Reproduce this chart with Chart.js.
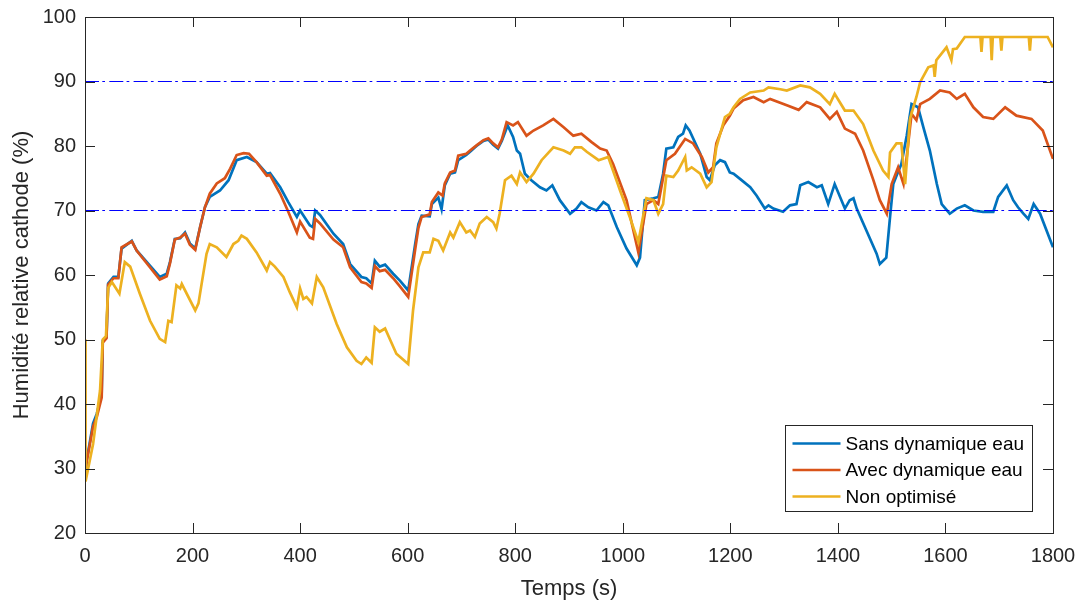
<!DOCTYPE html>
<html>
<head>
<meta charset="utf-8">
<script src="https://cdn.jsdelivr.net/npm/chart.js@4/dist/chart.umd.min.js"></script>
<style>
  html, body { margin: 0; padding: 0; background: #ffffff; overflow: hidden; }
  #wrap { width: 1083px; height: 603px; }
  canvas { display: block; }
</style>
</head>
<body>
<div id="wrap"><canvas id="c" width="1083" height="603"></canvas></div>
<script>
// ---------- Data ----------
const seriesLabels = ["Sans dynamique eau", "Avec dynamique eau", "Non optimisé"];
const xTicks = [0, 200, 400, 600, 800, 1000, 1200, 1400, 1600, 1800];
const yTicks = [20, 30, 40, 50, 60, 70, 80, 90, 100];
const refLevels = [70, 90];

const tSans = [0,3,15,22,31,33,40,43,53,62,68,87,96,139,152,158,167,177,186,195,205,214,223,232,251,267,282,301,319,338,344,363,378,394,400,418,424,428,437,462,480,493,514,523,533,539,548,558,573,586,601,614,620,626,641,645,657,663,669,679,688,694,709,716,728,741,750,759,768,775,786,796,803,809,818,830,846,858,869,883,902,914,923,936,951,964,973,989,1007,1026,1032,1041,1057,1066,1075,1081,1094,1103,1112,1117,1124,1144,1156,1162,1171,1181,1190,1199,1206,1218,1237,1249,1264,1271,1280,1298,1311,1323,1330,1345,1361,1370,1382,1394,1413,1422,1429,1435,1453,1472,1478,1490,1497,1503,1509,1518,1528,1537,1549,1559,1571,1584,1593,1608,1621,1636,1652,1670,1689,1698,1714,1726,1735,1745,1754,1764,1776,1800];
const vSans = [28.5,31.2,37,38.5,41.6,49.8,50.4,58.7,59.7,59.7,64.1,65.3,63.8,59.7,60.2,62.0,65.6,65.7,66.6,64.9,64.1,67.4,70.5,72.1,73.1,74.7,77.8,78.3,77.5,75.7,75.8,73.6,71.3,69.0,70.0,67.7,67.4,70.0,69.3,66.4,64.8,61.7,59.7,59.5,58.7,62.2,61.3,61.6,60.2,59.1,57.6,64.8,67.9,69.2,69.1,71.0,72.0,70.2,73.9,75.7,75.9,77.8,78.6,79.1,80.0,80.8,81.0,80.2,79.6,80.8,83.2,81.4,79.3,78.8,75.7,74.7,73.6,73.1,73.9,71.6,69.5,70.3,71.3,70.5,70.0,71.3,70.8,67.4,64.1,61.5,62.7,71.6,71.9,72.1,75.7,79.6,79.8,81.4,81.9,83.2,82.4,78.8,75.2,74.7,77.0,77.8,77.5,75.9,75.7,74.9,73.6,72.3,70.3,70.8,70.3,69.8,70.8,71.0,73.9,74.4,73.6,73.9,71.0,74.1,70.3,71.6,71.9,70.3,66.9,63.3,61.7,62.7,69.0,74.1,75.4,77.2,81.6,86.5,86.0,82.9,79.3,74.1,71.0,69.5,70.3,70.8,70.0,69.8,69.8,72.1,73.9,71.6,70.5,69.5,68.7,71.0,69.5,64.3];

const tAvec = [0,3,15,22,31,33,40,43,53,62,68,87,96,139,152,158,167,177,186,195,205,214,223,232,245,260,270,282,295,305,319,338,344,363,378,394,400,418,424,428,437,462,480,493,514,523,533,539,548,558,573,586,601,614,620,626,641,645,657,665,669,679,688,694,709,716,728,741,750,759,768,775,784,796,805,821,834,852,871,890,908,923,942,958,970,982,1007,1029,1044,1057,1066,1081,1097,1116,1131,1147,1159,1168,1174,1187,1199,1206,1224,1243,1262,1274,1305,1327,1342,1367,1385,1398,1413,1432,1447,1466,1478,1491,1500,1512,1522,1528,1537,1546,1553,1571,1590,1608,1621,1636,1652,1670,1689,1711,1732,1760,1781,1800];
const vAvec = [28.5,31,36.5,38,41,49.5,50.2,58.5,59.5,59.5,64.3,65.2,63.8,59.3,59.8,61.8,65.5,65.8,66.4,64.7,63.9,67.4,70.5,72.6,74.2,75.0,76.5,78.6,78.9,78.8,77.5,75.4,75.5,72.6,69.8,66.6,68.3,65.8,65.6,68.7,68.0,65.5,64.3,61.2,58.9,58.7,58.0,61.4,60.6,60.8,59.5,58.2,56.6,64.0,67.3,69.0,69.4,71.3,72.8,72.3,74.2,75.9,76.2,78.5,78.8,79.3,80.1,80.9,81.2,80.4,79.8,81.0,83.7,83.2,83.7,81.6,82.4,83.2,84.2,82.9,81.6,81.9,80.6,79.6,79.3,77.2,71.6,63.5,71.0,71.6,71.0,77.8,78.8,81.1,80.4,78.3,75.9,76.7,80.4,83.2,84.7,85.8,87.1,87.6,86.8,87.3,86.3,85.6,86.8,86.0,84.2,85.3,82.7,81.9,79.3,74.7,71.6,69.5,74.1,76.7,74.1,78.3,85.0,84.0,86.5,87.3,88.6,88.3,87.3,88.1,86.0,84.5,84.2,86.0,84.7,84.2,82.4,78.0];

const tNon = [0,1,15,28,33,39,43,50,64,74,84,102,121,139,149,155,161,170,177,180,205,211,217,226,232,245,263,276,285,291,301,319,338,344,353,369,381,394,400,406,412,422,431,443,468,487,505,514,523,533,539,548,558,579,601,610,620,629,641,648,657,666,679,685,697,709,716,725,734,747,759,765,771,781,793,803,809,821,834,849,871,890,902,911,923,933,955,973,995,1013,1029,1044,1057,1066,1075,1081,1094,1103,1116,1119,1128,1144,1156,1165,1174,1190,1199,1206,1218,1237,1262,1271,1293,1305,1330,1348,1367,1385,1394,1413,1429,1447,1466,1484,1494,1497,1509,1518,1525,1534,1546,1553,1568,1578,1580,1583,1602,1611,1614,1621,1636,1665,1667,1669,1684,1686,1688,1702,1704,1706,1755,1757,1759,1790,1800];
const vNon = [50,28,33.8,42.1,50,50.5,58,58.9,57.1,62.0,61.3,57.1,52.9,50.1,49.6,52.9,52.7,58.4,57.9,58.6,54.5,55.6,58.7,63.3,64.8,64.3,62.8,64.8,65.3,66.1,65.6,63.5,60.7,62.0,61.3,59.7,57.3,55.0,57.9,56.3,56.6,55.6,59.7,58.1,52.4,48.8,46.7,46.2,47.2,46.4,51.9,51.2,51.7,47.8,46.2,54.5,61.2,63.5,63.5,65.6,65.3,63.8,66.6,65.8,68.2,66.6,66.9,65.9,68.0,69.0,68.2,67.2,69.5,74.7,75.4,74.1,75.9,74.4,75.7,77.8,79.8,79.3,78.8,79.8,79.8,79.1,77.8,78.3,73.1,69.0,65.1,71.9,71.6,69.5,71.0,75.4,75.2,76.2,78.3,76.2,76.7,75.7,73.6,74.4,79.8,84.5,85.0,86.0,87.3,88.3,88.6,89.1,88.8,88.6,89.4,89.1,88.1,86.5,88.1,85.5,85.5,83.4,79.3,76.2,75.2,79.0,80.4,80.4,74.1,84.2,87.6,89.9,92.2,92.5,90.7,93.3,95.3,93.3,95.0,95.1,96.9,96.9,94.6,96.9,96.9,93.3,96.9,96.9,94.8,96.9,96.9,94.8,96.9,96.9,95.3];

const seriesColors = ["#0072BD", "#D95319", "#EDB120"];

// ---------- Build datasets ----------
function pts(t, v) { return t.map((x, i) => ({ x: x, y: v[i] })); }
const xMin = xTicks[0], xMax = xTicks[xTicks.length - 1];

const datasets = [];
refLevels.forEach(lv => {
  datasets.push({
    label: "ref" + lv,
    data: [{ x: xMin, y: lv }, { x: xMax, y: lv }],
    borderColor: "#0000FF",
    borderWidth: 1,
    borderDash: [14, 3.3, 2.7, 4.3],
    pointRadius: 0,
    order: 0
  });
});
[[tSans, vSans], [tAvec, vAvec], [tNon, vNon]].forEach((s, i) => {
  datasets.push({
    label: seriesLabels[i],
    data: pts(s[0], s[1]),
    borderColor: seriesColors[i],
    borderWidth: 2.7,
    pointRadius: 0,
    order: 3 - i
  });
});

const AX = "#262626";
const tickFont = { family: "'Liberation Sans', Arial, sans-serif", size: 20 };
const titleFont = { family: "'Liberation Sans', Arial, sans-serif", size: 22 };

// Box + inward ticks (MATLAB style) and in-plot legend
const boxPlugin = {
  id: "boxTicks",
  afterDatasetsDraw(chart) {
    const { ctx, chartArea: a, scales } = chart;
    ctx.save();
    ctx.strokeStyle = AX;
    ctx.lineWidth = 1;
    const L = 10;
    ctx.beginPath();
    scales.x.ticks.forEach(t => {
      const px = Math.round(scales.x.getPixelForValue(t.value)) + 0.5;
      ctx.moveTo(px, a.bottom); ctx.lineTo(px, a.bottom - L);
      ctx.moveTo(px, a.top); ctx.lineTo(px, a.top + L);
    });
    scales.y.ticks.forEach(t => {
      const py = Math.round(scales.y.getPixelForValue(t.value)) + 0.5;
      ctx.moveTo(a.left, py); ctx.lineTo(a.left + L, py);
      ctx.moveTo(a.right, py); ctx.lineTo(a.right - L, py);
    });
    ctx.stroke();
    ctx.strokeRect(Math.round(a.left) + 0.5, Math.round(a.top) + 0.5,
                   Math.round(a.right - a.left), Math.round(a.bottom - a.top));
    ctx.restore();
  },
  afterDraw(chart) {
    const { ctx, chartArea: a } = chart;
    const w = 247, h = 86;
    const x0 = Math.round(a.right - 21 - w) + 0.5;
    const y0 = Math.round(a.bottom - 22 - h) + 0.5;
    ctx.save();
    ctx.fillStyle = "#ffffff";
    ctx.fillRect(x0, y0, w, h);
    ctx.strokeStyle = AX;
    ctx.lineWidth = 1;
    ctx.strokeRect(x0, y0, w, h);
    ctx.font = "19px 'Liberation Sans', Arial, sans-serif";
    ctx.textBaseline = "middle";
    ctx.fillStyle = "#000000";
    seriesLabels.forEach((lab, i) => {
      const yy = y0 + 18 + i * 26.5;
      ctx.strokeStyle = seriesColors[i];
      ctx.lineWidth = 2.7;
      ctx.beginPath();
      ctx.moveTo(x0 + 7, yy); ctx.lineTo(x0 + 55, yy);
      ctx.stroke();
      ctx.fillText(lab, x0 + 60, yy + 1);
    });
    ctx.restore();
  }
};

function zeroPad(s) { s.paddingTop = 0; s.paddingBottom = 0; s.paddingLeft = 0; s.paddingRight = 0; }

new Chart(document.getElementById("c"), {
  type: "line",
  data: { datasets: datasets },
  options: {
    responsive: false,
    animation: false,
    layout: { padding: { top: 17, right: 30, left: 0, bottom: 0 } },
    elements: { line: { tension: 0 }, point: { radius: 0 } },
    plugins: { legend: { display: false }, tooltip: { enabled: false } },
    scales: {
      x: {
        type: "linear",
        min: xMin, max: xMax,
        afterBuildTicks: s => { s.ticks = xTicks.map(v => ({ value: v })); },
        afterFit: s => { s.height = 70; zeroPad(s); },
        grid: { display: false, drawTicks: false },
        border: { display: false },
        ticks: { color: AX, font: tickFont, padding: 11, maxRotation: 0, callback: v => String(v) },
        title: { display: true, text: "Temps (s)", color: AX, font: titleFont, padding: { top: 0, bottom: 1 } }
      },
      y: {
        type: "linear",
        min: yTicks[0], max: yTicks[yTicks.length - 1],
        afterBuildTicks: s => { s.ticks = yTicks.map(v => ({ value: v })); },
        afterFit: s => { s.width = 85; zeroPad(s); },
        grid: { display: false, drawTicks: false },
        border: { display: false },
        ticks: { color: AX, font: tickFont, padding: 9, callback: v => String(v) },
        title: { display: true, text: "Humidité relative cathode (%)", color: AX, font: titleFont, padding: { top: 9, bottom: 0 } }
      }
    }
  },
  plugins: [boxPlugin]
});
</script>
</body>
</html>
